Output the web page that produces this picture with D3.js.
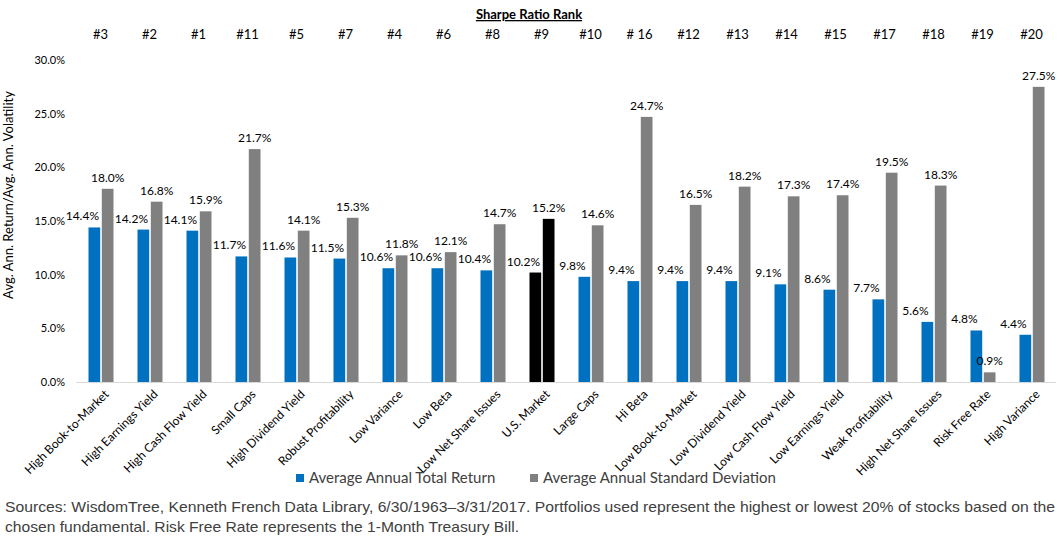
<!DOCTYPE html>
<meta charset="utf-8">
<style>
body { margin: 0; background: #fff; }
svg { display: block; }
text { font-family: Lato, "Open Sans", sans-serif; fill: #000; }
.foot { font-family: "Liberation Sans", Arial, sans-serif; fill: #404040; }
</style>
<script src="https://cdnjs.cloudflare.com/ajax/libs/d3/7.8.5/d3.min.js"></script>
<body></body>
<script>

var categories = ['High Book-to-Market', 'High Earnings Yield', 'High Cash Flow Yield', 'Small Caps',
  'High Dividend Yield', 'Robust Profitability', 'Low Variance', 'Low Beta', 'Low Net Share Issues',
  'U.S. Market', 'Large Caps', 'Hi Beta', 'Low Book-to-Market', 'Low Dividend Yield',
  'Low Cash Flow Yield', 'Low Earnings Yield', 'Weak Profitability', 'High Net Share Issues',
  'Risk Free Rate', 'High Variance'];
var totalReturn = [14.4, 14.2, 14.1, 11.7, 11.6, 11.5, 10.6, 10.6, 10.4, 10.2, 9.8, 9.4, 9.4, 9.4, 9.1, 8.6, 7.7, 5.6, 4.8, 4.4];
var stdDev = [18.0, 16.8, 15.9, 21.7, 14.1, 15.3, 11.8, 12.1, 14.7, 15.2, 14.6, 24.7, 16.5, 18.2, 17.3, 17.4, 19.5, 18.3, 0.9, 27.5];
var ranks = ['#3', '#2', '#1', '#11', '#5', '#7', '#4', '#6', '#8', '#9', '#10', '# 16', '#12', '#13', '#14', '#15', '#17', '#18', '#19', '#20'];
var yTicks = [0, 5, 10, 15, 20, 25, 30];
var seriesNames = ['Average Annual Total Return', 'Average Annual Standard Deviation'];
var highlight = 'U.S. Market';

var width = 1062, height = 540;
var blue = '#0070c0', grey = '#808080';

var svg = d3.select('body').append('svg')
  .attr('width', width)
  .attr('height', height);

var x0 = d3.scaleBand().domain(categories).range([76, 1056]);
var x1 = d3.scaleBand().domain([0, 1])
  .range([x0.bandwidth() / 2 - 12, x0.bandwidth() / 2 + 13])
  .paddingInner(0.12);
var y = d3.scaleLinear().domain([0, 30]).range([382, 60]);

var rows = categories.map(function(c, i) {
  return { name: c, vals: [totalReturn[i], stdDev[i]], rank: ranks[i] };
});

// y tick labels
svg.append('g').selectAll('text')
  .data(yTicks)
  .enter().append('text')
  .attr('x', 65)
  .attr('y', function(d) { return y(d); })
  .attr('dy', '0.35em')
  .attr('text-anchor', 'end')
  .style('font-size', '11px')
  .text(function(d) { return d3.format('.1f')(d) + '%'; });

// y title
svg.append('text')
  .attr('transform', 'translate(13,' + 195 + ') rotate(-90)')
  .attr('text-anchor', 'middle')
  .style('font-size', '13px')
  .text('Avg. Ann. Return/Avg. Ann. Volatility');

// baseline
svg.append('line')
  .attr('x1', 76).attr('x2', 1056)
  .attr('y1', y(0) + 0.5).attr('y2', y(0) + 0.5)
  .attr('stroke', '#d9d9d9');

// bars
var groups = svg.append('g').selectAll('g')
  .data(rows)
  .enter().append('g')
  .attr('transform', function(d) { return 'translate(' + x0(d.name) + ',0)'; });

groups.selectAll('rect')
  .data(function(d) { return d.vals.map(function(v, k) { return { v: v, k: k, name: d.name }; }); })
  .enter().append('rect')
  .attr('x', function(d) { return x1(d.k); })
  .attr('width', x1.bandwidth())
  .attr('y', function(d) { return y(d.v); })
  .attr('height', function(d) { return y(0) - y(d.v); })
  .attr('fill', function(d) { return d.name === highlight ? '#000' : (d.k === 0 ? blue : grey); });

groups.selectAll('text.val')
  .data(function(d) { return d.vals.map(function(v, k) { return { v: v, k: k }; }); })
  .enter().append('text')
  .attr('class', 'val')
  .attr('x', function(d) { return x1(d.k) + x1.bandwidth() / 2 - (d.k === 0 ? 12 : 0); })
  .attr('y', function(d) { return y(d.v) - 7; })
  .attr('text-anchor', 'middle')
  .style('font-size', '12px')
  .text(function(d) { return d3.format('.1f')(d.v) + '%'; });

// category labels
svg.append('g').selectAll('text')
  .data(categories)
  .enter().append('text')
  .attr('transform', function(d) {
    return 'translate(' + (x0(d) + x0.bandwidth() / 2 + 6) + ',' + 392 + ') rotate(-45)';
  })
  .attr('text-anchor', 'end')
  .attr('dy', '0.35em')
  .style('font-size', '12px')
  .text(function(d) { return d; });

// rank header
svg.append('text')
  .attr('x', 529).attr('y', 19)
  .attr('text-anchor', 'middle')
  .style('font-size', '13px')
  .style('font-weight', 'bold')
  .style('text-decoration', 'underline')
  .text('Sharpe Ratio Rank');

svg.append('g').selectAll('text')
  .data(rows)
  .enter().append('text')
  .attr('x', function(d) { return x0(d.name) + x0.bandwidth() / 2; })
  .attr('y', 39)
  .attr('text-anchor', 'middle')
  .style('font-size', '13px')
  .text(function(d) { return d.rank; });

// legend
var legX = [296, 530];
var leg = svg.append('g').selectAll('g')
  .data(seriesNames)
  .enter().append('g')
  .attr('transform', function(d, i) { return 'translate(' + legX[i] + ',478)'; });
leg.append('rect')
  .attr('x', 0).attr('y', -4)
  .attr('width', 8).attr('height', 8)
  .attr('fill', function(d, i) { return i === 0 ? blue : grey; });
leg.append('text')
  .attr('x', 13).attr('dy', '0.35em')
  .style('font-size', '15px')
  .style('fill', '#404040')
  .text(function(d) { return d; });

// footnote
var foot = [
  ['Sources: WisdomTree, Kenneth French Data Library, 6/30/1963\u20133/31/2017. Portfolios used represent the highest or lowest 20% of stocks based on the', 1050],
  ['chosen fundamental. Risk Free Rate represents the 1-Month Treasury Bill.', 514]
];
svg.append('g').selectAll('text')
  .data(foot)
  .enter().append('text')
  .attr('class', 'foot')
  .attr('x', 5)
  .attr('y', function(d, i) { return 512 + i * 20; })
  .attr('textLength', function(d) { return d[1]; })
  .attr('lengthAdjust', 'spacingAndGlyphs')
  .style('font-size', '15px')
  .text(function(d) { return d[0]; });

</script>
